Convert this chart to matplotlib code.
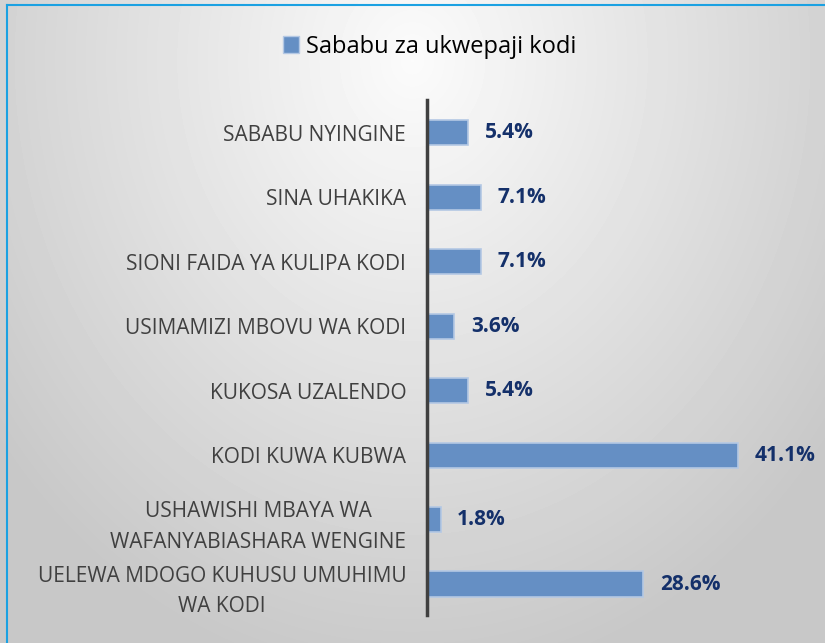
import numpy as np
import matplotlib
matplotlib.use('Agg')
import matplotlib.pyplot as plt
from matplotlib.patches import Patch
from matplotlib.lines import Line2D

# Data (bottom to top)
categories = ['UELEWA MDOGO KUHUSU UMUHIMU\nWA KODI',
              'USHAWISHI MBAYA WA\nWAFANYABIASHARA WENGINE',
              'KODI KUWA KUBWA',
              'KUKOSA UZALENDO',
              'USIMAMIZI MBOVU WA KODI',
              'SIONI FAIDA YA KULIPA KODI',
              'SINA UHAKIKA',
              'SABABU NYINGINE']
values = [28.6, 1.8, 41.1, 5.4, 3.6, 7.1, 7.1, 5.4]
series_name = 'Sababu za ukwepaji kodi'

plt.rcParams['font.family'] = ['Open Sans', 'DejaVu Sans']

fig = plt.figure(figsize=(8.25, 6.43), dpi=100)

# gradient background
bg = fig.add_axes([0, 0, 1, 1])
yy, xx = np.mgrid[0:643, 0:825]
d = np.sqrt(((xx - 412) / 520.0) ** 2 + ((yy - 60) / 620.0) ** 2)
shade = 0.985 - 0.20 * np.clip(d, 0, 1)
bg.imshow(shade, cmap='gray', vmin=0, vmax=1, aspect='auto', extent=[0, 825, 643, 0])
bg.set_xlim(0, 825)
bg.set_ylim(643, 0)
bg.axis('off')
bg.add_line(Line2D([7, 7], [5, 643], color='#1BA1E2', lw=1.5))
bg.add_line(Line2D([7, 825], [5, 5], color='#1BA1E2', lw=1.5))

ax = fig.add_axes([427 / 825, 1 - 615 / 643, (800 - 427) / 825, (615 - 100) / 643])
ax.patch.set_alpha(0)
y = np.arange(len(categories))
ax.barh(y, values, height=0.39, color='#658FC4', edgecolor='#B4C8E4', linewidth=1.2)
for yi, v in zip(y, values):
    ax.text(v + 2.2, yi, f'{v:.1f}%', va='center', ha='left', fontsize=15,
            fontweight='bold', color='#14306A')

ax.set_xlim(0, 49.3)
ax.set_ylim(-0.48, 7.51)
ax.set_yticks(y)
ax.set_yticklabels(categories, fontsize=15, color='#404040', ha='right',
                   multialignment='center', linespacing=1.6)
ax.tick_params(axis='y', length=0, pad=15)
ax.set_xticks([])
for s in ['top', 'right', 'bottom']:
    ax.spines[s].set_visible(False)
ax.spines['left'].set_color('#404040')
ax.spines['left'].set_linewidth(2.5)

handle = Patch(facecolor='#658FC4', edgecolor='#B4C8E4')
fig.legend([handle], [series_name], loc='center', bbox_to_anchor=(0.521, 0.927),
           frameon=False, fontsize=17, handlelength=0.7, handleheight=0.7, handletextpad=0.3)

fig.savefig('out.png', dpi=100)
